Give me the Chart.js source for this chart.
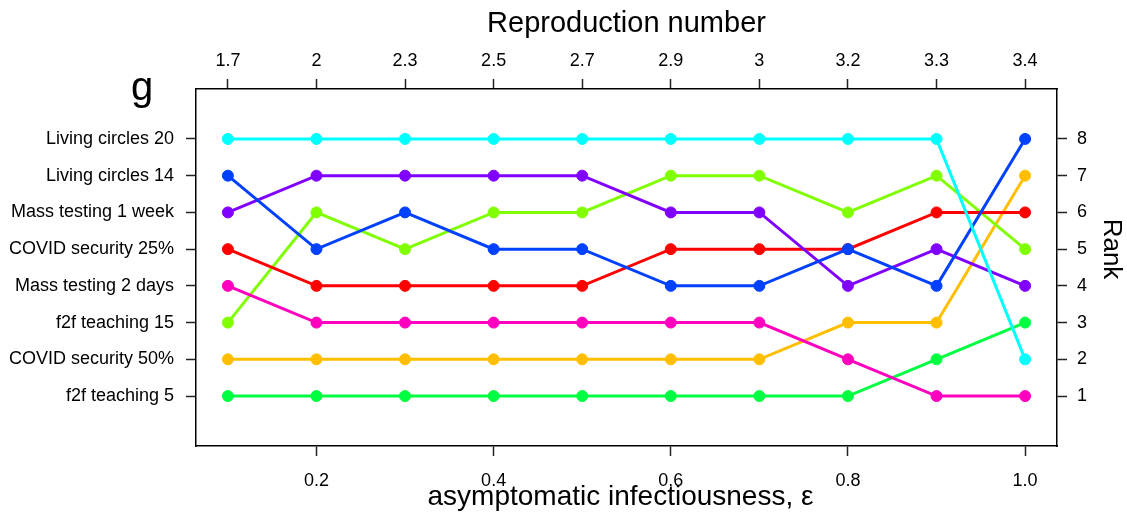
<!DOCTYPE html>
<html>
<head>
<meta charset="utf-8">
<script src="https://cdn.jsdelivr.net/npm/chart.js@4/dist/chart.umd.min.js"></script>
<style>
  html, body { margin: 0; padding: 0; background: #fff; }
  #wrap { width: 1127px; height: 517px; position: relative; }
</style>
</head>
<body>
<div id="wrap"><canvas id="c" width="1127" height="517"></canvas></div>
<script>
// asymptomatic infectiousness values (bottom axis) and matching reproduction numbers (top axis)
const epsilon = [0.1, 0.2, 0.3, 0.4, 0.5, 0.6, 0.7, 0.8, 0.9, 1.0];
const reproduction = ['1.7', '2', '2.3', '2.5', '2.7', '2.9', '3', '3.2', '3.3', '3.4'];
const bottomTicks = [0.2, 0.4, 0.6, 0.8, 1.0];

// intervention names shown on the left, from rank 1 upwards
const rankNames = ['f2f teaching 5', 'COVID security 50%', 'f2f teaching 15', 'Mass testing 2 days',
                   'COVID security 25%', 'Mass testing 1 week', 'Living circles 14', 'Living circles 20'];
const rankTicks = [1, 2, 3, 4, 5, 6, 7, 8];

// rank of each intervention at each epsilon
const livingCircles20  = [8, 8, 8, 8, 8, 8, 8, 8, 8, 2];
const livingCircles14  = [7, 5, 6, 5, 5, 4, 4, 5, 4, 8];
const massTesting1Week = [6, 7, 7, 7, 7, 6, 6, 4, 5, 4];
const covidSecurity25  = [5, 4, 4, 4, 4, 5, 5, 5, 6, 6];
const massTesting2Days = [4, 3, 3, 3, 3, 3, 3, 2, 1, 1];
const f2fTeaching15    = [3, 6, 5, 6, 6, 7, 7, 6, 7, 5];
const covidSecurity50  = [2, 2, 2, 2, 2, 2, 2, 3, 3, 7];
const f2fTeaching5     = [1, 1, 1, 1, 1, 1, 1, 1, 2, 3];

const seriesList = [
  { name: 'Living circles 20',   values: livingCircles20,  color: '#00FFFF' },
  { name: 'Living circles 14',   values: livingCircles14,  color: '#0040FF' },
  { name: 'Mass testing 1 week', values: massTesting1Week, color: '#8000FF' },
  { name: 'COVID security 25%',  values: covidSecurity25,  color: '#FF0000' },
  { name: 'Mass testing 2 days', values: massTesting2Days, color: '#FF00BF' },
  { name: 'f2f teaching 15',     values: f2fTeaching15,    color: '#80FF00' },
  { name: 'COVID security 50%',  values: covidSecurity50,  color: '#FFBF00' },
  { name: 'f2f teaching 5',      values: f2fTeaching5,     color: '#00FF40' }
];

const FONT = '"Liberation Sans", Arial, Helvetica, sans-serif';
const X_MIN = 0.064, X_MAX = 1.036;
const Y_MIN = -0.36, Y_MAX = 9.36;

const axisLine = { display: true, color: '#000', width: 1.5 };
const tickGrid = { drawOnChartArea: false, drawTicks: true, tickLength: 10, tickColor: '#222', tickWidth: 1.5 };
const tickFont = { family: FONT, size: 18 };

function fixedSize(size, horizontal) {
  return function (scale) {
    if (horizontal) scale.height = size; else scale.width = size;
  };
}
function setTicks(values) {
  return function (scale) { scale.ticks = values.map(v => ({ value: v })); };
}

const textPlugin = {
  id: 'panelText',
  afterDraw(chart) {
    const ctx = chart.ctx;
    const a = chart.chartArea;
    const cx = (a.left + a.right) / 2;
    ctx.save();
    ctx.fillStyle = '#000';
    ctx.textAlign = 'center';
    ctx.textBaseline = 'alphabetic';
    ctx.font = '29px ' + FONT;
    ctx.fillText('Reproduction number', cx, 32);
    ctx.font = '28px ' + FONT;
    ctx.fillText('asymptomatic infectiousness, \u03B5', cx - 6, 505);
    ctx.font = '40px ' + FONT;
    ctx.fillText('g', 142, 100);
    ctx.translate(1104, 249);
    ctx.rotate(Math.PI / 2);
    ctx.font = '26px ' + FONT;
    ctx.fillText('Rank', 0, 0);
    ctx.restore();
  }
};

new Chart(document.getElementById('c'), {
  type: 'line',
  data: {
    datasets: seriesList.map(s => ({
      label: s.name,
      data: s.values.map((v, i) => ({ x: epsilon[i], y: v })),
      borderColor: s.color,
      backgroundColor: s.color,
      pointBackgroundColor: s.color,
      pointBorderColor: s.color,
      borderWidth: 3,
      pointRadius: 5.5,
      pointBorderWidth: 1,
      tension: 0,
      fill: false,
      xAxisID: 'x',
      yAxisID: 'y'
    }))
  },
  options: {
    responsive: false,
    animation: false,
    devicePixelRatio: 1,
    layout: { padding: 0 },
    plugins: { legend: { display: false }, tooltip: { enabled: false }, title: { display: false } },
    scales: {
      x: {
        type: 'linear', position: 'bottom', min: X_MIN, max: X_MAX,
        afterBuildTicks: setTicks(bottomTicks),
        afterFit: fixedSize(71, true),
        ticks: { font: tickFont, color: '#000', padding: 14, maxRotation: 0,
                 callback: v => Number(v).toFixed(1) },
        grid: tickGrid, border: axisLine
      },
      xTop: {
        type: 'linear', position: 'top', min: X_MIN, max: X_MAX,
        afterBuildTicks: setTicks(epsilon),
        afterFit: fixedSize(89, true),
        ticks: { font: tickFont, color: '#000', padding: 7, maxRotation: 0,
                 callback: (v, i) => reproduction[i] },
        grid: tickGrid, border: axisLine
      },
      y: {
        type: 'linear', position: 'left', min: Y_MIN, max: Y_MAX,
        afterBuildTicks: setTicks(rankTicks),
        afterFit: fixedSize(196, false),
        ticks: { font: tickFont, color: '#000', padding: 12,
                 callback: v => rankNames[Math.round(v) - 1] },
        grid: tickGrid, border: axisLine
      },
      yRight: {
        type: 'linear', position: 'right', min: Y_MIN, max: Y_MAX,
        afterBuildTicks: setTicks(rankTicks),
        afterFit: fixedSize(70, false),
        ticks: { font: tickFont, color: '#000', padding: 10,
                 callback: v => String(v) },
        grid: tickGrid, border: axisLine
      }
    }
  },
  plugins: [textPlugin]
});
</script>
</body>
</html>
